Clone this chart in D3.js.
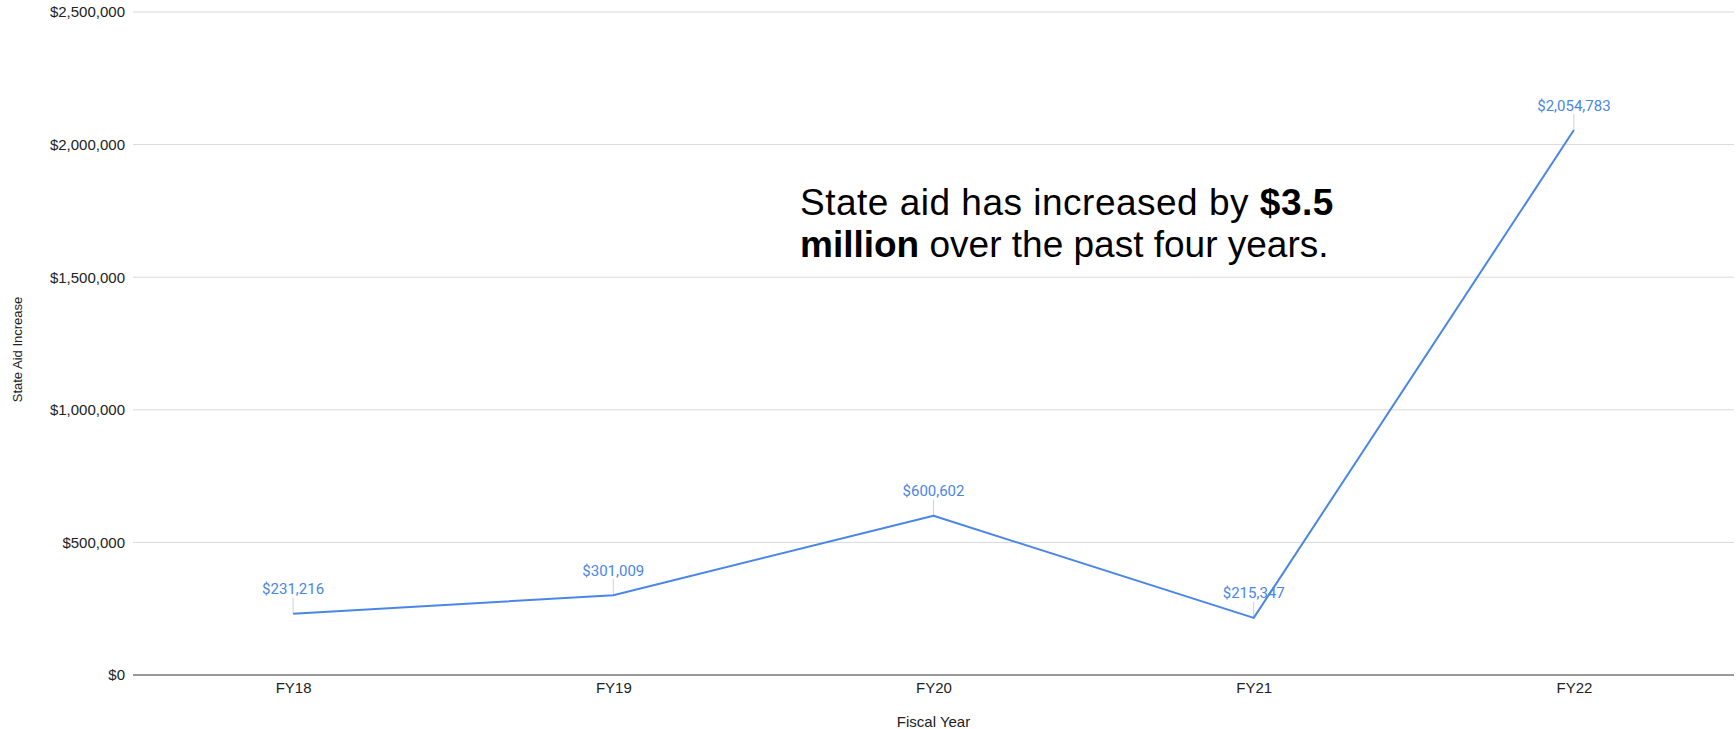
<!DOCTYPE html>
<html>
<head>
<meta charset="utf-8">
<script src="https://cdn.jsdelivr.net/npm/d3@7"></script>
<style>
  html, body { margin: 0; padding: 0; background: #fff; }
  svg { display: block; font-family: Arial, "Liberation Sans", sans-serif; }
</style>
</head>
<body>
<svg id="chart" width="1736" height="729"></svg>
<script>
const categories = ["FY18", "FY19", "FY20", "FY21", "FY22"];
const values = [231216, 301009, 600602, 215347, 2054783];
const yTicks = [0, 500000, 1000000, 1500000, 2000000, 2500000];
const xTitle = "Fiscal Year";
const yTitle = "State Aid Increase";

const W = 1736, H = 729;
const margin = { left: 133, right: 2, top: 12, bottom: 54 };
const svg = d3.select("#chart");
const FONT = "Arial, 'Liberation Sans', sans-serif";

const x = d3.scalePoint().domain(categories).range([margin.left, W - margin.right]).padding(0.5);
const y = d3.scaleLinear().domain([0, 2500000]).range([H - margin.bottom, margin.top]);

const fmt = v => "$" + d3.format(",")(v);

// gridlines
svg.append("g")
  .selectAll("line").data(yTicks.filter(t => t > 0)).join("line")
  .attr("x1", margin.left).attr("x2", W - margin.right)
  .attr("y1", d => y(d)).attr("y2", d => y(d))
  .attr("stroke", "#d9d9d9").attr("stroke-width", 1);

// y axis labels
const yAxis = svg.append("g")
  .attr("transform", `translate(${margin.left},0)`)
  .call(d3.axisLeft(y).tickValues(yTicks).tickFormat(fmt).tickSize(0).tickPadding(8));
yAxis.select(".domain").remove();
yAxis.selectAll("text").attr("font-size", 15).attr("fill", "#222").attr("font-family", FONT);

// x axis
const xAxis = svg.append("g")
  .attr("transform", `translate(0,${y(0)})`)
  .call(d3.axisBottom(x).tickSize(0).tickPadding(7));
xAxis.select(".domain").attr("stroke", "#333").attr("stroke-width", 1)
  .attr("d", `M${margin.left},0H${W - margin.right}`);
xAxis.selectAll("text").attr("font-size", 15).attr("fill", "#222").attr("font-family", FONT);

// axis titles
svg.append("text")
  .attr("x", (margin.left + W - margin.right) / 2).attr("y", 727)
  .attr("text-anchor", "middle").attr("font-size", 15).attr("fill", "#222")
  .text(xTitle);
svg.append("text")
  .attr("transform", `translate(22,${(y(0) + y(2500000)) / 2 + 6}) rotate(-90)`)
  .attr("text-anchor", "middle").attr("font-size", 13).attr("fill", "#222")
  .text(yTitle);

const data = categories.map((c, i) => ({ c, v: values[i] }));

// leader lines
svg.append("g").selectAll("line").data(data).join("line")
  .attr("x1", d => x(d.c)).attr("x2", d => x(d.c))
  .attr("y1", d => y(d.v)).attr("y2", d => y(d.v) - 16)
  .attr("stroke", "#d0d0d0").attr("stroke-width", 1);

// line
svg.append("path")
  .datum(data)
  .attr("fill", "none")
  .attr("stroke", "#4a86e8")
  .attr("stroke-width", 2)
  .attr("stroke-linejoin", "round")
  .attr("d", d3.line().x(d => x(d.c)).y(d => y(d.v)));

// data labels
svg.append("g").selectAll("text").data(data).join("text")
  .attr("x", d => x(d.c)).attr("y", d => y(d.v) - 19.5)
  .attr("text-anchor", "middle").attr("font-size", 15)
  .attr("font-family", "Roboto, Arial, sans-serif").attr("fill", "#4a86e8")
  .text(d => fmt(d.v));

// annotation
const ann = svg.append("text").attr("font-size", 37).attr("fill", "#000");
const l1 = ann.append("tspan").attr("x", 800).attr("y", 215).attr("letter-spacing", 0.5);
l1.append("tspan").text("State aid has increased by ");
l1.append("tspan").attr("font-weight", "bold").text("$3.5");
const l2 = ann.append("tspan").attr("x", 800).attr("y", 257);
l2.append("tspan").attr("font-weight", "bold").text("million");
l2.append("tspan").text(" over the past four years.");
</script>
</body>
</html>
